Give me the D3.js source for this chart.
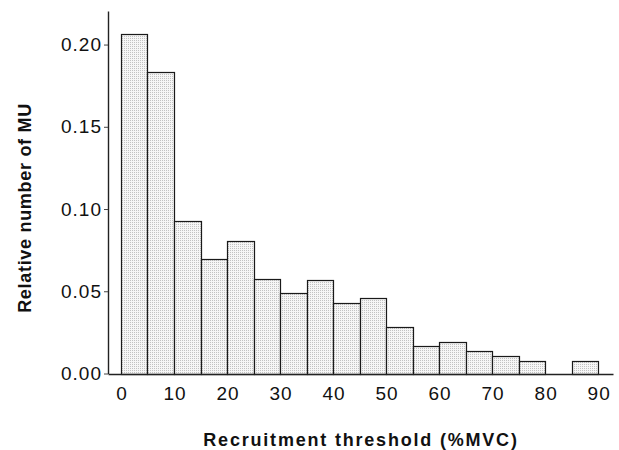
<!DOCTYPE html>
<html>
<head>
<meta charset="utf-8">
<script src="https://cdn.jsdelivr.net/npm/d3@7"></script>
<style>
  body { margin: 0; background: #fff; }
  svg { display: block; }
  .tick text { font-family: "Liberation Sans", Arial, sans-serif; font-size: 19px; fill: #111; letter-spacing: 1px; }
  .title { font-family: "Liberation Sans", Arial, sans-serif; font-size: 18px; font-weight: bold; fill: #111; }
</style>
</head>
<body>
<svg id="chart"></svg>
<script>
// bins of 5 %MVC, starting at 0
var binStarts = [0, 5, 10, 15, 20, 25, 30, 35, 40, 45, 50, 55, 60, 65, 70, 75, 80, 85];
var relCount = [0.2066, 0.1833, 0.0925, 0.0694, 0.0805, 0.0574, 0.0487, 0.0570, 0.0429,
                0.0457, 0.0281, 0.0165, 0.0193, 0.0135, 0.0105, 0.0074, 0, 0.0074];
var binWidth = 5;
var xTicks = [0, 10, 20, 30, 40, 50, 60, 70, 80, 90];
var yTicks = [0, 0.05, 0.10, 0.15, 0.20];

var width = 619, height = 450;
var svg = d3.select("#chart").attr("width", width).attr("height", height);

// stipple fill like the printed figure
var pat = svg.append("defs").append("pattern")
  .attr("id", "dots")
  .attr("patternUnits", "userSpaceOnUse")
  .attr("width", 2).attr("height", 2);
pat.append("rect").attr("width", 2).attr("height", 2).attr("fill", "#f6f6f6");
pat.append("rect").attr("width", 1).attr("height", 1).attr("fill", "#c2c2c2");

var x = d3.scaleLinear().domain([-2.45, 92.8]).range([108, 613]);
var y = d3.scaleLinear().domain([0, 0.2204]).range([373.5, 11]);

svg.selectAll("rect.bar")
  .data(binStarts.map(function(s, i) { return { start: s, value: relCount[i] }; })
    .filter(function(d) { return d.value > 0; }))
  .enter().append("rect")
  .attr("class", "bar")
  .attr("x", function(d) { return Math.round(x(d.start)) + 0.5; })
  .attr("width", function(d) { return Math.round(x(d.start + binWidth)) - Math.round(x(d.start)); })
  .attr("y", function(d) { return Math.round(y(d.value)) + 0.5; })
  .attr("height", function(d) { return Math.round(y(0)) - Math.round(y(d.value)); })
  .attr("fill", "url(#dots)")
  .attr("stroke", "#1a1a1a")
  .attr("stroke-width", 1.2);

var xAxis = svg.append("g")
  .attr("transform", "translate(0," + Math.round(y(0)) + ")")
  .call(d3.axisBottom(x).tickValues(xTicks).tickSize(0).tickPadding(13).tickFormat(d3.format("d")));
xAxis.select(".domain").attr("stroke", "#222").attr("stroke-width", 1.6);
xAxis.selectAll(".tick text").attr("dx", "0.5px");

var yAxis = svg.append("g")
  .attr("transform", "translate(108,0)")
  .call(d3.axisLeft(y).tickValues(yTicks).tickSize(4).tickSizeOuter(0).tickPadding(2).tickFormat(d3.format(".2f")));
yAxis.select(".domain").attr("stroke", "#222").attr("stroke-width", 1.4);
yAxis.selectAll(".tick line").attr("stroke", "#444");

svg.append("text")
  .attr("class", "title")
  .attr("x", 361).attr("y", 446)
  .attr("text-anchor", "middle")
  .style("letter-spacing", "1.8px")
  .text("Recruitment threshold (%MVC)");

svg.append("text")
  .attr("class", "title")
  .attr("transform", "translate(31,208) rotate(-90)")
  .attr("text-anchor", "middle")
  .style("letter-spacing", "0.7px")
  .text("Relative number of MU");
</script>
</body>
</html>
